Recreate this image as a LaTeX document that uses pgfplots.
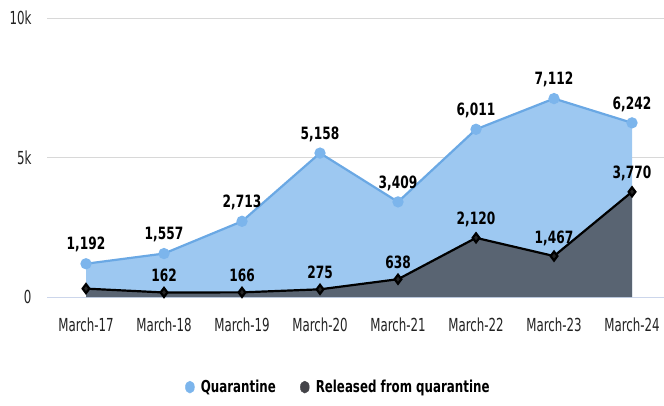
\documentclass[border=0pt]{standalone}
\usepackage{fontspec}
\setmainfont[FakeStretch=0.66, BoldFeatures={FakeStretch=0.72}]{DejaVu Sans}
\usepackage{pgfplots}
\usepackage{pgfplotstable}
\pgfplotsset{compat=1.18}
\definecolor{qline}{HTML}{6AA8E4}
\definecolor{qmark}{HTML}{7CB5EC}
\definecolor{qfill}{HTML}{9DC8F1}
\definecolor{rcol}{HTML}{434348}
\definecolor{gridc}{HTML}{D8D8D8}
\definecolor{axc}{HTML}{CCD6EB}
\definecolor{txt}{HTML}{222222}
\pgfplotstableread{
x y
0 1192
1 1557
2 2713
3 5158
4 3409
5 6011
6 7112
7 6242
}\quarantine
\pgfplotstableread{
x y
0 300
1 162
2 166
3 275
4 638
5 2120
6 1467
7 3770
}\released
\pgfplotstableread{
x y
1 162
2 166
3 275
4 638
5 2120
6 1467
7 3770
}\releasedlabels
\begin{document}
\begin{tikzpicture}
\begin{axis}[
  at={(47bp,109bp)}, anchor=south west,
  scale only axis, width=617bp, height=279bp,
  xmin=-0.5, xmax=7.41, ymin=0, ymax=10000,
  scaled y ticks=false,
  axis x line*=bottom, axis y line*=left,
  x axis line style={axc, -, line width=1bp},
  y axis line style={draw=none},
  xtick={0,...,7},
  xticklabels={March-17,March-18,March-19,March-20,March-21,March-22,March-23,March-24},
  ytick={0,5000,10000}, yticklabels={0,5k,10k},
  major tick length=0pt,
  ymajorgrids, grid style={gridc, line width=0.8bp},
  tick label style={font=\fontsize{18}{20}\selectfont, text=txt},
  xticklabel style={yshift=-17bp},
  yticklabel style={xshift=-12bp},
  /pgf/number format/assume math mode=true,
  /pgf/number format/1000 sep={,},
  clip=false,
  legend style={at={(0.472,-0.323)}, anchor=center, draw=none, fill=none,
    legend columns=2, font=\bfseries\fontsize{16.5}{18}\selectfont,
    /tikz/every even column/.append style={column sep=22bp}},
  every node near coord/.append style={font=\bfseries\fontsize{17}{19}\selectfont, text=black, anchor=south, yshift=7bp},
]
\addlegendimage{legend image code/.code={\path[draw=none,fill=none] (-5bp,0) -- (9bp,0); \fill[qmark] (0,0) ellipse (4.5bp and 6bp);}}
\addlegendentry{Quarantine}
\addlegendimage{legend image code/.code={\path[draw=none,fill=none] (-5bp,0) -- (9bp,0); \fill[rcol] (0,0) ellipse (4.5bp and 6bp);}}
\addlegendentry{Released from quarantine}
% quarantine area
\addplot[draw=none, fill=qfill, forget plot] table[x=x,y=y] {\quarantine} \closedcycle;
% released area
\addplot[draw=none, fill=rcol, fill opacity=0.75, forget plot] table[x=x,y=y] {\released} \closedcycle;
% quarantine line
\addplot[qline, line width=2.2bp, mark=*, mark size=4.5bp, mark options={fill=qmark, draw=qmark},
  nodes near coords, forget plot] table[x=x,y=y] {\quarantine};
% released line
\addplot[black, line width=2.2bp, mark=diamond*, mark size=4.5bp, mark options={fill=black!85, draw=black},
  forget plot] table[x=x,y=y] {\released};
\addplot[draw=none, nodes near coords, forget plot] table[x=x,y=y] {\releasedlabels};
\end{axis}
\pgfresetboundingbox
\path (0,0) rectangle (664bp,406bp);
\end{tikzpicture}
\end{document}
